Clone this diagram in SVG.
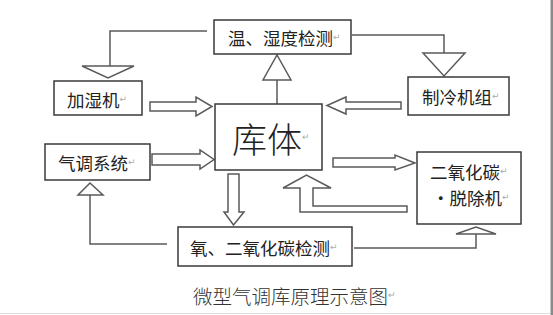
<svg xmlns="http://www.w3.org/2000/svg" width="553" height="315" viewBox="0 0 553 315">
<style>
.box{fill:#fff;stroke:#3a3a3a;stroke-width:1.5}
.ln{fill:none;stroke:#5a5a5a;stroke-width:1.5}
.hol{fill:#fff;stroke:#5a5a5a;stroke-width:1.5;stroke-linejoin:miter}
.t{font-family:"Noto Sans CJK SC","Noto Sans",sans-serif;font-size:17.5px;fill:#222;dominant-baseline:central}
.big{font-size:35px;font-weight:300}
.cap{font-size:19.5px;font-weight:300;fill:#333}
.pm{font-family:"DejaVu Sans",sans-serif;font-size:9px;fill:#aaa}
</style>
<rect width="553" height="315" fill="#fff"/>
<rect x="550.5" y="0" width="2.5" height="315" fill="#8a8a8a"/>
<line x1="0" y1="313.5" x2="550" y2="313.5" stroke="#ddd" stroke-width="1"/>

<g id="connectors">
  <!-- temp/humidity -> humidifier -->
  <polyline class="ln" points="207,31 110,31 110,66"/>
  <polygon class="hol" points="82,66 134,66 108,78"/>
  <!-- temp/humidity -> refrigeration -->
  <polyline class="ln" points="352,35 444,35 444,53"/>
  <polygon class="hol" points="423,53 465,53 444,76"/>
  <!-- chamber -> temp/humidity -->
  <line class="ln" x1="277" y1="104" x2="277" y2="80"/>
  <polygon class="hol" points="263,80 291,80 277,55"/>
  <!-- humidifier -> chamber -->
  <polygon class="hol" points="150,102 196,102 196,97 212,106.5 196,116 196,111 150,111"/>
  <!-- refrigeration -> chamber -->
  <polygon class="hol" points="401,102 346,102 346,97 327,105.5 346,114 346,109 401,109"/>
  <!-- AC system -> chamber -->
  <polygon class="hol" points="152,154 200,154 200,150 214,159.5 200,169 200,165 152,165"/>
  <!-- chamber -> O2/CO2 detection -->
  <polygon class="hol" points="228,174 239,174 239,212 244,212 233.5,225 224,212 228,212"/>
  <!-- chamber -> CO2 scrubber -->
  <polygon class="hol" points="333,158 395,158 395,155 415,163 395,170 395,167 333,167"/>
  <!-- CO2 scrubber -> chamber (L-shaped) -->
  <polygon class="hol" points="407,206 313,206 313,188 331,188 306.5,175 283,188 300,188 300,212 407,212"/>
  <!-- detection -> AC system -->
  <polyline class="ln" points="167,244 90,244 90,195"/>
  <polygon class="hol" points="78,195 103,195 90,183"/>
  <!-- detection -> CO2 scrubber -->
  <polyline class="ln" points="354,248 476,248 476,234"/>
  <polygon class="hol" points="456,234 496,234 476,227"/>
</g>

<g id="temp-humidity">
  <rect class="box" x="214" y="20" width="137" height="34"/>
  <text class="t" x="228" y="37">温、湿度检测<tspan class="pm">↵</tspan></text>
</g>
<g id="humidifier">
  <rect class="box" x="54" y="81" width="88" height="34"/>
  <text class="t" x="67" y="99">加湿机<tspan class="pm">↵</tspan></text>
</g>
<g id="refrigeration">
  <rect class="box" x="408" y="77" width="101" height="38"/>
  <text class="t" x="422" y="96">制冷机组<tspan class="pm">↵</tspan></text>
</g>
<g id="chamber">
  <rect class="box" x="215" y="104" width="107" height="66"/>
  <text class="t big" x="232" y="137">库体<tspan class="pm">↵</tspan></text>
</g>
<g id="ac-system">
  <rect class="box" x="45" y="144" width="105" height="36"/>
  <text class="t" x="58" y="162">气调系统<tspan class="pm">↵</tspan></text>
</g>
<g id="co2-scrubber">
  <rect class="box" x="417" y="152" width="104" height="72"/>
  <text class="t" x="430" y="171">二氧化碳<tspan class="pm">↵</tspan></text>
  <text class="t" x="432" y="197">·脱除机<tspan class="pm">↵</tspan></text>
</g>
<g id="o2-co2-detection">
  <rect class="box" x="178" y="227" width="174" height="39"/>
  <text class="t" x="190" y="247">氧、二氧化碳检测<tspan class="pm">↵</tspan></text>
</g>
<g id="caption">
  <text class="t cap" x="193" y="295">微型气调库原理示意图<tspan class="pm">↵</tspan></text>
</g>
</svg>
